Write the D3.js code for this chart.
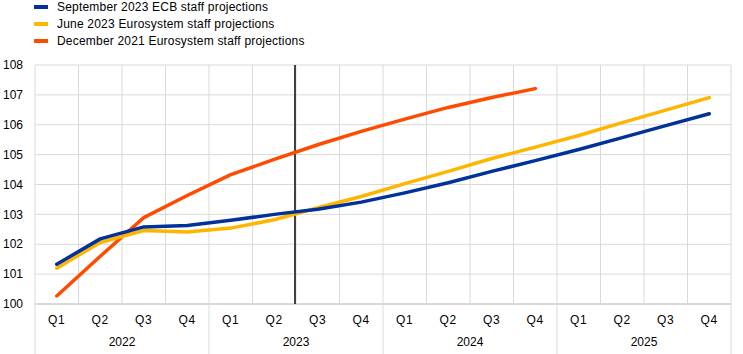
<!DOCTYPE html>
<html>
<head>
<meta charset="utf-8">
<script src="https://cdn.jsdelivr.net/npm/d3@7"></script>
<style>
  body { margin: 0; background: #fff; }
  svg text { font-family: "Liberation Sans", Arial, sans-serif; font-size: 12px; fill: #000; }
  .legend text { letter-spacing: 0.2px; }
  .qlab text { letter-spacing: 0.8px; }
</style>
</head>
<body>
<div id="chart"></div>
<script>
// quarters 2022 Q1 .. 2025 Q4
var years = ["2022", "2023", "2024", "2025"];
var quarters = ["Q1", "Q2", "Q3", "Q4"];
var yTicks = [100, 101, 102, 103, 104, 105, 106, 107, 108];

var sep2023 = [101.33, 102.18, 102.58, 102.63, 102.80, 103.00, 103.17, 103.41,
               103.72, 104.06, 104.44, 104.80, 105.17, 105.57, 105.97, 106.37];
var jun2023 = [101.20, 102.06, 102.46, 102.41, 102.54, 102.82, 103.22, 103.60,
               104.03, 104.44, 104.87, 105.25, 105.64, 106.07, 106.49, 106.91];
var dec2021 = [100.27, 101.60, 102.89, 103.63, 104.33, 104.84, 105.33, 105.78,
               106.19, 106.58, 106.91, 107.21];

var seriesNames = ["September 2023 ECB staff projections",
                   "June 2023 Eurosystem staff projections",
                   "December 2021 Eurosystem staff projections"];
var seriesColors = ["#003299", "#FFB400", "#FF4B00"];
var seriesValues = [sep2023, jun2023, dec2021];

var W = 743, H = 354;
var margin = {top: 65, right: 12, bottom: 50, left: 35};
var w = W - margin.left - margin.right;
var h = 304 - margin.top;

var keys = [];
years.forEach(function(y) { quarters.forEach(function(q) { keys.push(y + q); }); });

var x = d3.scaleBand().domain(keys).range([0, w]);
var y = d3.scaleLinear().domain([100, 108]).range([h, 0]);

var svg = d3.select("#chart").append("svg")
  .attr("width", W).attr("height", H);

// legend
var legend = svg.append("g").attr("class", "legend");
seriesNames.forEach(function(name, i) {
  var g = legend.append("g").attr("transform", "translate(34," + (7 + i * 17) + ")");
  g.append("rect").attr("x", 0).attr("y", -2).attr("width", 14).attr("height", 4)
    .attr("fill", seriesColors[i]);
  g.append("text").attr("x", 23).attr("y", 0).attr("dy", "0.35em").text(name);
});

var plot = svg.append("g")
  .attr("transform", "translate(" + margin.left + "," + margin.top + ")");

// horizontal grid
plot.append("g").selectAll("line").data(yTicks.slice(1)).enter().append("line")
  .attr("x1", 0).attr("x2", w)
  .attr("y1", function(d) { return y(d); }).attr("y2", function(d) { return y(d); })
  .attr("stroke", "#d9d9d9").attr("stroke-width", 1);

// vertical quarter grid
plot.append("g").selectAll("line").data(keys).enter().append("line")
  .attr("x1", function(d) { return x(d) + x.bandwidth(); })
  .attr("x2", function(d) { return x(d) + x.bandwidth(); })
  .attr("y1", 0)
  .attr("y2", function(d, i) { return (i % 4 === 3) ? H - margin.top : h; })
  .attr("stroke", "#d9d9d9").attr("stroke-width", 1);

// left axis line, extends down through labels
plot.append("line").attr("x1", 0).attr("x2", 0).attr("y1", 0).attr("y2", H - margin.top)
  .attr("stroke", "#d9d9d9").attr("stroke-width", 1);

// bottom axis line
plot.append("line").attr("x1", 0).attr("x2", w).attr("y1", h).attr("y2", h)
  .attr("stroke", "#d9d9d9").attr("stroke-width", 2);

// y labels
plot.append("g").selectAll("text").data(yTicks).enter().append("text")
  .attr("x", -12).attr("y", function(d) { return y(d); })
  .attr("dy", "0.35em").attr("text-anchor", "end")
  .text(function(d) { return d; });

// quarter labels
plot.append("g").attr("class", "qlab").selectAll("text").data(keys).enter().append("text")
  .attr("x", function(d) { return x(d) + x.bandwidth() / 2; })
  .attr("y", h + 20)
  .attr("text-anchor", "middle")
  .text(function(d) { return d.slice(4); });

// year labels
plot.append("g").selectAll("text").data(years).enter().append("text")
  .attr("x", function(d) { return x(d + "Q1") + 2 * x.bandwidth(); })
  .attr("y", h + 42)
  .attr("text-anchor", "middle")
  .text(function(d) { return d; });

// cut-off line between 2023 Q2 and Q3
var cut = x("2023Q3") - 1;
plot.append("line").attr("x1", cut).attr("x2", cut).attr("y1", 0).attr("y2", h)
  .attr("stroke", "#404040").attr("stroke-width", 2);

var line = d3.line()
  .x(function(d, i) { return x(keys[i]) + x.bandwidth() / 2; })
  .y(function(d) { return y(d); });

// draw oldest first so the blue line sits on top
[2, 1, 0].forEach(function(i) {
  plot.append("path").datum(seriesValues[i])
    .attr("d", line)
    .attr("fill", "none")
    .attr("stroke", seriesColors[i])
    .attr("stroke-width", 3.5)
    .attr("stroke-linecap", "round")
    .attr("stroke-linejoin", "round");
});
</script>
</body>
</html>
